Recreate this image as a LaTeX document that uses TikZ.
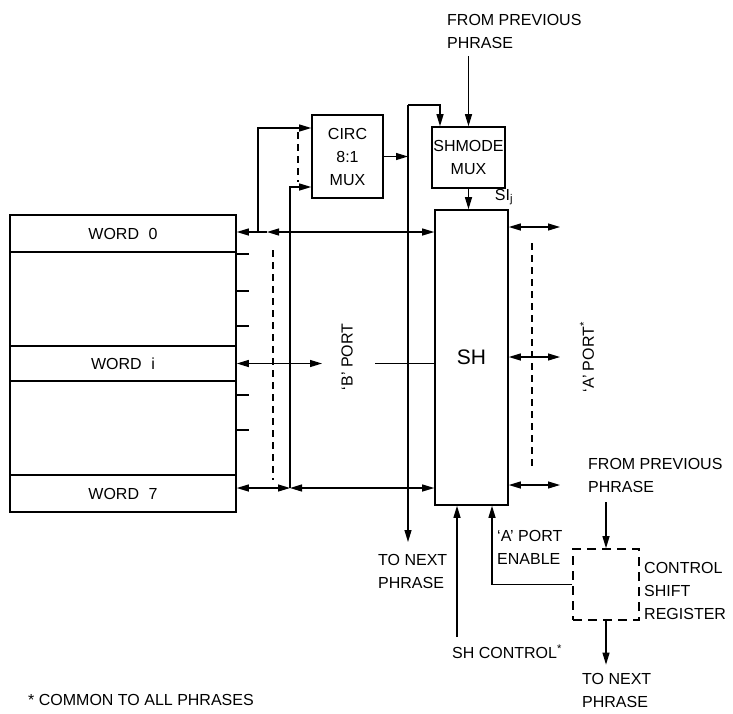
\documentclass[tikz,border=0pt]{standalone}
\usepackage{fontspec}
\setmainfont{Liberation Sans}
\usetikzlibrary{arrows.meta}

\begin{document}
\begin{tikzpicture}[x=1pt, y=-1pt,
  lbl/.style={font=\fontsize{16}{23}\selectfont, inner sep=0pt, align=left},
  box/.style={draw, line width=1.6pt, font=\fontsize{16}{23}\selectfont,
              align=center, inner sep=0pt},
  arr/.style={line width=1.2pt, -{Triangle[length=12pt,width=7pt]}},
  dbl/.style={line width=1.2pt, {Triangle[length=12pt,width=7pt]}-{Triangle[length=12pt,width=7pt]}},
  ln/.style={line width=1.2pt},
  dsh/.style={line width=1.2pt, dash pattern=on 7pt off 5pt}]
\useasboundingbox (0,0) rectangle (733,713);
\node[box, minimum width=226pt, minimum height=297pt] (mem) at (123,363.5) {};
\node[box, minimum width=226pt, minimum height=37pt, anchor=north] (word0) at (mem.north) {WORD\hspace{0.6em}0};
\node[box, minimum width=226pt, minimum height=35pt] (wordi) at (mem.center) {WORD\hspace{0.6em}i};
\node[box, minimum width=226pt, minimum height=37pt, anchor=south] (word7) at (mem.south) {WORD\hspace{0.6em}7};
\node[box, minimum width=71pt, minimum height=83pt] (circ) at (347.5,156.5) {CIRC\\8:1\\MUX};
\node[box, minimum width=73pt, minimum height=61pt] (shmode) at (468.5,157.5) {SHMODE\\MUX};
\node[box, minimum width=73pt, minimum height=295pt, font=\fontsize{21}{25}\selectfont] (sh) at (471.5,357.5) {SH};
\node[box, dash pattern=on 9pt off 6pt, minimum width=66pt, minimum height=71pt] (csr) at (606,584.5) {};
\node[lbl, anchor=west] (topin) at (447,31) {FROM PREVIOUS\\PHRASE};
\node[lbl] (sij) at (504,197) {SI\textsubscript{j}};
\node[lbl, rotate=90] (bport) at (347,357) {‘B’ PORT};
\node[lbl, rotate=90] (aport) at (587,357) {‘A’ PORT\textsuperscript{*}};
\node[lbl, anchor=west] (rin) at (588,475) {FROM PREVIOUS\\PHRASE};
\node[lbl, anchor=west] (csrlbl) at (644,591) {CONTROL\\SHIFT\\REGISTER};
\node[lbl, anchor=west] (rout) at (582,690) {TO NEXT\\PHRASE};
\node[lbl, anchor=west] (aen) at (497,547) {‘A’ PORT\\ENABLE};
\node[lbl, anchor=west] (shctl) at (452,652) {SH CONTROL\textsuperscript{*}};
\node[lbl, anchor=west] (lout) at (378,571) {TO NEXT\\PHRASE};
\node[lbl, anchor=west] (note) at (28,700) {* COMMON TO ALL PHRASES};
\coordinate (j0) at (258,232);
\coordinate (j0b) at (267,232);
\coordinate (j7) at (290,488);
\coordinate (bl) at (322,363.5);
\coordinate (br) at (375,363.5);
\coordinate (nx) at (408,105);
\coordinate (lo) at (408,542);
\coordinate (sc) at (457,637);
\draw[arr] (j0) -- (word0.east |- j0);
\draw[ln] (j0) -- (j0b);
\draw[dbl] (j0b) -- (sh.west |- j0b);
\draw[arr] (j0) |- ([yshift=28.5pt]circ.west);
\draw[dbl] (word7.east |- j7) -- (j7);
\draw[dbl] (j7) -- (sh.west |- j7);
\draw[arr] (j7) |- ([yshift=-30.5pt]circ.west);
\draw[dsh] (298,132) -- (298,182);
\draw[dbl] (wordi.east) -- (bl);
\draw[ln] (br) -- (sh.west |- br);
\draw[dsh] (273,250) -- (273,480);
\foreach \y in {254,291,326,395,430}
  \draw[ln] (236,\y) -- (249,\y);
\draw[arr] (circ.east) -- (circ.east -| lo);
\draw[arr] (nx) -- (lo);
\draw[arr] (nx) -| ([xshift=-28.5pt]shmode.north);
\draw[arr, shorten <=8pt] (shmode.north |- topin.south) -- (shmode.north);
\draw[arr] (shmode.south) -- (shmode.south |- sh.north);
\foreach \y [count=\i] in {227,357,485} {
  \coordinate (ap\i) at (560,\y);
  \draw[dbl] (sh.east |- ap\i) -- (ap\i);
}
\draw[dsh] (532,243) -- (532,470);
\draw[arr, shorten <=10pt] (csr.north |- rin.south) -- (csr.north);
\draw[arr, shorten >=8pt] (csr.south) -- (csr.south |- rout.north);
\draw[arr] (csr.west) -| ([xshift=20.5pt]sh.south);
\draw[arr] (sc) -- (sc |- sh.south);
\end{tikzpicture}
\end{document}
